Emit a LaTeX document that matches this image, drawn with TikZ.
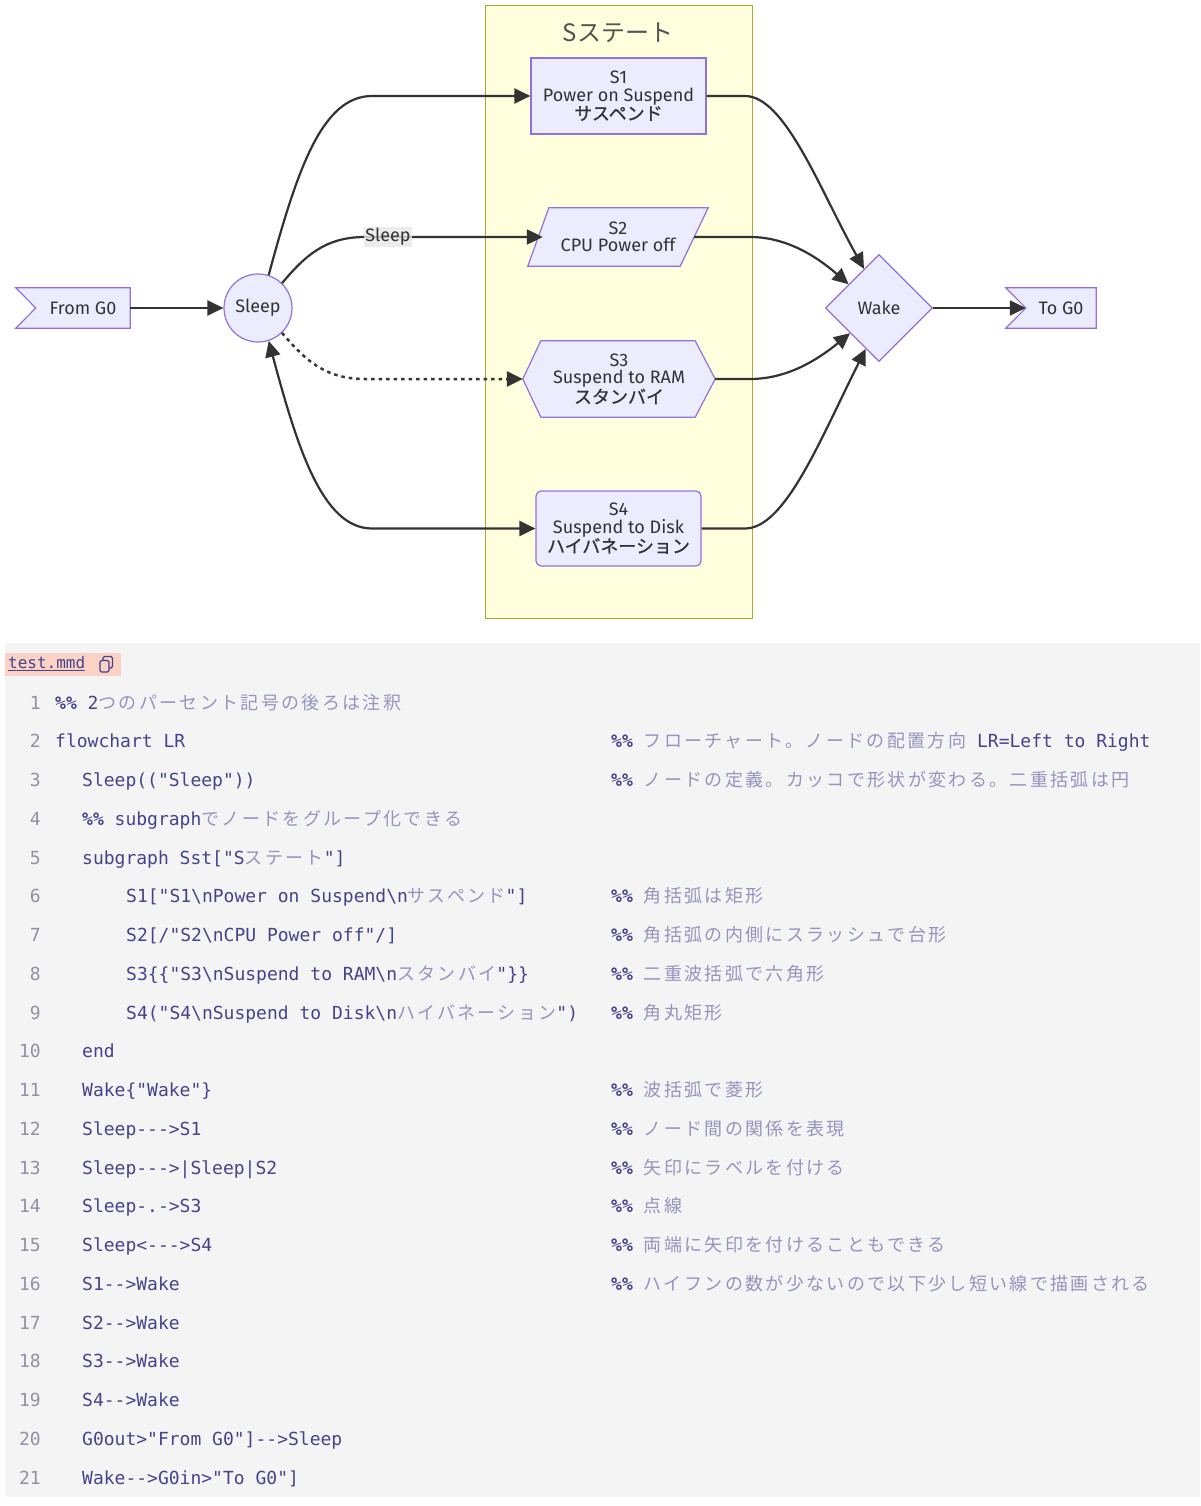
\documentclass[tikz,border=0pt]{standalone}
\usepackage{fontspec}
\usetikzlibrary{arrows.meta,calc,shapes.geometric}
\setmonofont{DejaVu Sans Mono}
\newfontfamily\dfont{Fira Sans}
\newfontfamily\jfont{Noto Sans CJK JP}
\newfontfamily\jnode[FakeBold=0.8]{Noto Sans CJK JP}
\newfontfamily\jcode[LetterSpace=13]{Noto Sans CJK JP}
\pgfdeclarelayer{bg}
\pgfdeclarelayer{shp}
\pgfsetlayers{bg,shp,main}
\definecolor{nfill}{HTML}{ECECFF}
\definecolor{nborder}{HTML}{9370DB}
\definecolor{cfill}{HTML}{FFFFDE}
\definecolor{cborder}{HTML}{AAAA33}
\definecolor{ink}{HTML}{333333}
\definecolor{lblbg}{HTML}{E8E8E8}
\definecolor{codebg}{HTML}{F4F4F4}
\definecolor{codefg}{HTML}{44448C}
\definecolor{codecjk}{HTML}{9494BE}
\definecolor{lnumc}{HTML}{9090A8}
\definecolor{tabbg}{HTML}{FCD2C6}
\newcommand\dsz{\dfont\fontsize{18}{17.5}\selectfont}
\newcommand\csz{\ttfamily\fontsize{18}{20}\selectfont}
\newcommand\jc[1]{{\jcode\color{codecjk}#1}}
\newcommand\codeln[3]{\node[codetxt] (c#1) at (#2,{704+(#1-1)*38.75}) {#3};}
\newcommand\lnum[1]{\node[lnumtxt] (n#1) at (41,{704+(#1-1)*38.75}) {#1};}
\newcommand\cmt[2]{\node[codetxt] (m#1) at (611,{704+(#1-1)*38.75}) {\textbf{\%\%} #2};}
\tikzset{
  nodebox/.style={draw=nborder, fill=nfill, line width=1.2pt, text=ink, font=\dsz, align=center, inner sep=2pt},
  plain/.style={text=ink, font=\dsz, align=center, inner sep=2pt},
  shapefill/.style={draw=nborder, fill=nfill, line width=1.2pt},
  tip/.tip={Triangle[length=16pt,width=15pt]},
  edge/.style={draw=ink, line width=2.2pt, -tip},
  biedge/.style={draw=ink, line width=2.2pt, tip-tip},
  dotedge/.style={draw=ink, line width=2.5pt, -tip, dash pattern=on 3.5pt off 4pt},
  elabel/.style={fill=lblbg, fill opacity=0.8, text opacity=1, text=ink, font=\dsz, inner sep=1pt},
  codetxt/.style={anchor=west, inner sep=0pt, text height=14pt, text depth=4pt, text=codefg, font=\csz},
  lnumtxt/.style={anchor=east, inner sep=0pt, text height=14pt, text depth=4pt, text=lnumc, font=\csz},
}
\begin{document}
\begin{tikzpicture}[x=1pt,y=-1pt]
\useasboundingbox (0,0) rectangle (1200,1506);
\begin{pgfonlayer}{bg}
  \fill[white] (0,0) rectangle (1200,1506);
  \node[draw=cborder, fill=cfill, line width=1pt, minimum width=267, minimum height=612, inner sep=0pt] (Sst) at (618.5,312) {};
  \fill[codebg] (5,643) rectangle (1200,1497);
\end{pgfonlayer}
% cluster title
\node[text=ink!85, inner sep=0pt] (SstT) at (618,33) {\jfont\fontsize{24}{26}\selectfont Sステート};
% nodes
\node[nodebox, minimum width=175, minimum height=76] (S1) at (618.5,96) {S1\\Power on Suspend\\{\jnode サスペンド}};
\node[plain, minimum width=180, minimum height=58] (S2) at (618,237) {S2\\CPU Power off};
\node[plain, minimum width=192, minimum height=76] (S3) at (619,379) {S3\\Suspend to RAM\\{\jnode スタンバイ}};
\node[nodebox, rounded corners=5pt, minimum width=165, minimum height=75] (S4) at (618.5,528.5) {S4\\Suspend to Disk\\{\jnode ハイバネーション}};
\node[nodebox, circle, minimum size=68, inner sep=0pt] (Sleep) at (258,308) {Sleep};
\node[nodebox, diamond, aspect=1, minimum size=107, inner sep=0pt] (Wake) at (879,308) {Wake};
\node[plain, minimum width=94, minimum height=40] (FromG0) at (83,308) {From G0};
\node[plain, minimum width=70, minimum height=40] (ToG0) at (1061,308) {To G0};
\coordinate (S2in) at ($(S2.west)+(15,0)$);
\coordinate (S2out) at ($(S2.east)+(-14,0)$);
\begin{pgfonlayer}{shp}
  \draw[shapefill] (S2.south west) -- ($(S2.north west)+(21,0)$) -- (S2.north east) -- ($(S2.south east)+(-28,0)$) -- cycle;
  \draw[shapefill] (S3.west) -- ($(S3.north west)+(18,0)$) -- ($(S3.north east)+(-20,0)$) -- (S3.east) -- ($(S3.south east)+(-20,0)$) -- ($(S3.south west)+(18,0)$) -- cycle;
  \draw[shapefill] ($(FromG0.north west)+(-20,0)$) -- (FromG0.north east) -- (FromG0.south east) -- ($(FromG0.south west)+(-20,0)$) -- (FromG0.west) -- cycle;
  \draw[shapefill] ($(ToG0.north west)+(-20,0)$) -- (ToG0.north east) -- (ToG0.south east) -- ($(ToG0.south west)+(-20,0)$) -- (ToG0.west) -- cycle;
\end{pgfonlayer}
% edges
\draw[edge] (FromG0.east) -- (Sleep.west);
\draw[edge] (Sleep.72) .. controls (297,170) and (322,96) .. (372,96) -- (S1.west);
\draw[edge] (Sleep.46) .. controls (305,256) and (325,237) .. (365,237) -- (S2in);
\node[elabel] (lblSleep) at (388,237) {Sleep};
\draw[dotedge] (Sleep.-46) .. controls (305,360) and (325,379) .. (365,379) -- (S3.west);
\draw[biedge] (Sleep.-72) .. controls (297,446) and (322,528.5) .. (372,528.5) -- (S4.west);
\draw[edge] (S1.east) -- (745,96) .. controls (785,96) and (820,190) .. (Wake.111);
\draw[edge] (S2out) -- (750,237) .. controls (785,237) and (815,255) .. (Wake.142);
\draw[edge] (S3.east) -- (750,379) .. controls (785,379) and (815,362) .. (Wake.-139);
\draw[edge] (S4.east) -- (745,528.5) .. controls (785,528.5) and (820,440) .. (Wake.-108);
\draw[edge] (Wake.east) -- (ToG0.west);
% code tab
\node[fill=tabbg, minimum width=116, minimum height=23, anchor=west, inner sep=0pt] (tab) at (5,664.5) {};
\node[anchor=west, inner sep=0pt, text=codefg, font={\ttfamily\fontsize{16}{18}\selectfont}] (tabtxt) at (8,664) {\underline{test.mmd}};
\draw[codefg, line width=1.3pt, rounded corners=1.5pt] (100,660.5) rectangle (109,672);
\draw[codefg, line width=1.3pt, rounded corners=1.5pt] (103,660.5) -- (103,656.5) -- (112.5,656.5) -- (112.5,668) -- (109,668);
% code lines
\foreach \i in {1,...,21}{\lnum{\i}}
\codeln{1}{55}{\textbf{\%\%} 2\jc{つのパーセント記号の後ろは注釈}}
\codeln{2}{55}{flowchart LR}
\cmt{2}{\jc{フローチャート。ノードの配置方向} LR=Left to Right}
\codeln{3}{82}{Sleep(("Sleep"))}
\cmt{3}{\jc{ノードの定義。カッコで形状が変わる。二重括弧は円}}
\codeln{4}{82}{\textbf{\%\%} subgraph\jc{でノードをグループ化できる}}
\codeln{5}{82}{subgraph Sst["S\jc{ステート}"]}
\codeln{6}{126}{S1["S1\textbackslash nPower on Suspend\textbackslash n\jc{サスペンド}"]}
\cmt{6}{\jc{角括弧は矩形}}
\codeln{7}{126}{S2[/"S2\textbackslash nCPU Power off"/]}
\cmt{7}{\jc{角括弧の内側にスラッシュで台形}}
\codeln{8}{126}{S3\{\{"S3\textbackslash nSuspend to RAM\textbackslash n\jc{スタンバイ}"\}\}}
\cmt{8}{\jc{二重波括弧で六角形}}
\codeln{9}{126}{S4("S4\textbackslash nSuspend to Disk\textbackslash n\jc{ハイバネーション}")}
\cmt{9}{\jc{角丸矩形}}
\codeln{10}{82}{end}
\codeln{11}{82}{Wake\{"Wake"\}}
\cmt{11}{\jc{波括弧で菱形}}
\codeln{12}{82}{Sleep--->S1}
\cmt{12}{\jc{ノード間の関係を表現}}
\codeln{13}{82}{Sleep--->|Sleep|S2}
\cmt{13}{\jc{矢印にラベルを付ける}}
\codeln{14}{82}{Sleep-.->S3}
\cmt{14}{\jc{点線}}
\codeln{15}{82}{Sleep<--->S4}
\cmt{15}{\jc{両端に矢印を付けることもできる}}
\codeln{16}{82}{S1-->Wake}
\cmt{16}{\jc{ハイフンの数が少ないので以下少し短い線で描画される}}
\codeln{17}{82}{S2-->Wake}
\codeln{18}{82}{S3-->Wake}
\codeln{19}{82}{S4-->Wake}
\codeln{20}{82}{G0out>"From G0"]-->Sleep}
\codeln{21}{82}{Wake-->G0in>"To G0"]}
\end{tikzpicture}
\end{document}
